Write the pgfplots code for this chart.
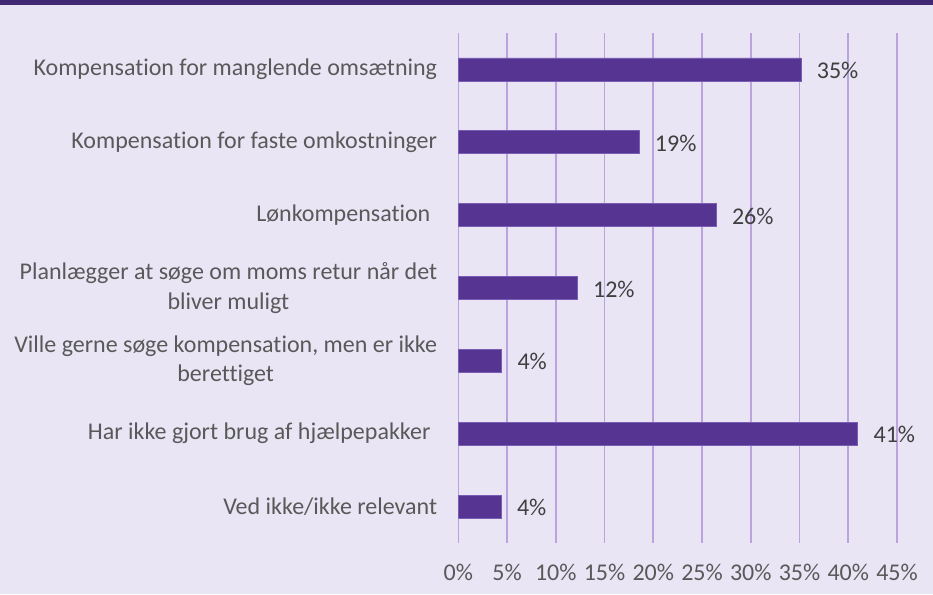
\documentclass[border=0pt]{standalone}
\usepackage{pgfplots}
\pgfplotsset{compat=1.18}
\usepackage{fontspec}
\setmainfont{Carlito}[Ligatures={NoCommon}]
\definecolor{bgc}{HTML}{E9E5F5}
\definecolor{bandc}{HTML}{412873}
\definecolor{gridc}{HTML}{BBA3E0}
\definecolor{barc}{HTML}{563592}
\definecolor{baredge}{HTML}{7A5CB5}
\definecolor{tickc}{HTML}{595959}
\definecolor{valc}{HTML}{404040}
\begin{document}
\begin{tikzpicture}[x=1pt,y=1pt]
\useasboundingbox (0,0) rectangle (933,594);
\fill[bgc] (0,0) rectangle (933,594);
\fill[bandc] (0,589.3) rectangle (933,594);
\begin{axis}[
  at={(458.3pt,51pt)}, anchor=south west,
  scale only axis, width=438.7pt, height=510pt,
  xmin=0, xmax=45, ymin=-0.5, ymax=6.5,
  y dir=reverse,
  xbar, bar width=23pt,
  enlargelimits=false,
  axis line style={draw=none},
  major tick length=0pt,
  xtick={0,5,...,45},
  xticklabels={0\%,5\%,10\%,15\%,20\%,25\%,30\%,35\%,40\%,45\%},
  xticklabel style={inner sep=0pt, yshift=-21pt, text=tickc, font=\fontsize{24}{29}\selectfont},
  ytick={0,...,6},
  yticklabels={
    {Kompensation for manglende omsætning},
    {Kompensation for faste omkostninger},
    {Lønkompensation\hspace{0.28em}},
    {Planlægger at søge om moms retur når det\\bliver muligt},
    {Ville gerne søge kompensation, men er ikke\\berettiget},
    {Har ikke gjort brug af hjælpepakker\hspace{0.28em}},
    {Ved ikke/ikke relevant}},
  yticklabel style={align=center, inner sep=0pt, xshift=-21pt, text=tickc, font=\fontsize{24}{29.3}\selectfont},
  xmajorgrids, ymajorgrids=false,
  major grid style={draw=gridc, line width=1.6pt},
  point meta=explicit symbolic,
  nodes near coords,
  nodes near coords align={center},
  every node near coord/.append style={anchor=west, inner sep=0pt, xshift=15.5pt, yshift=-1pt, text=valc, font=\fontsize{24}{29}\selectfont},
]
\addplot[fill=barc, draw=baredge, line width=0.75pt] coordinates {
  (35.15,0) [35\%]
  (18.54,1) [19\%]
  (26.45,2) [26\%]
  (12.2,3) [12\%]
  (4.45,4) [4\%]
  (40.97,5) [41\%]
  (4.4,6) [4\%]
};
\end{axis}
\end{tikzpicture}
\end{document}
